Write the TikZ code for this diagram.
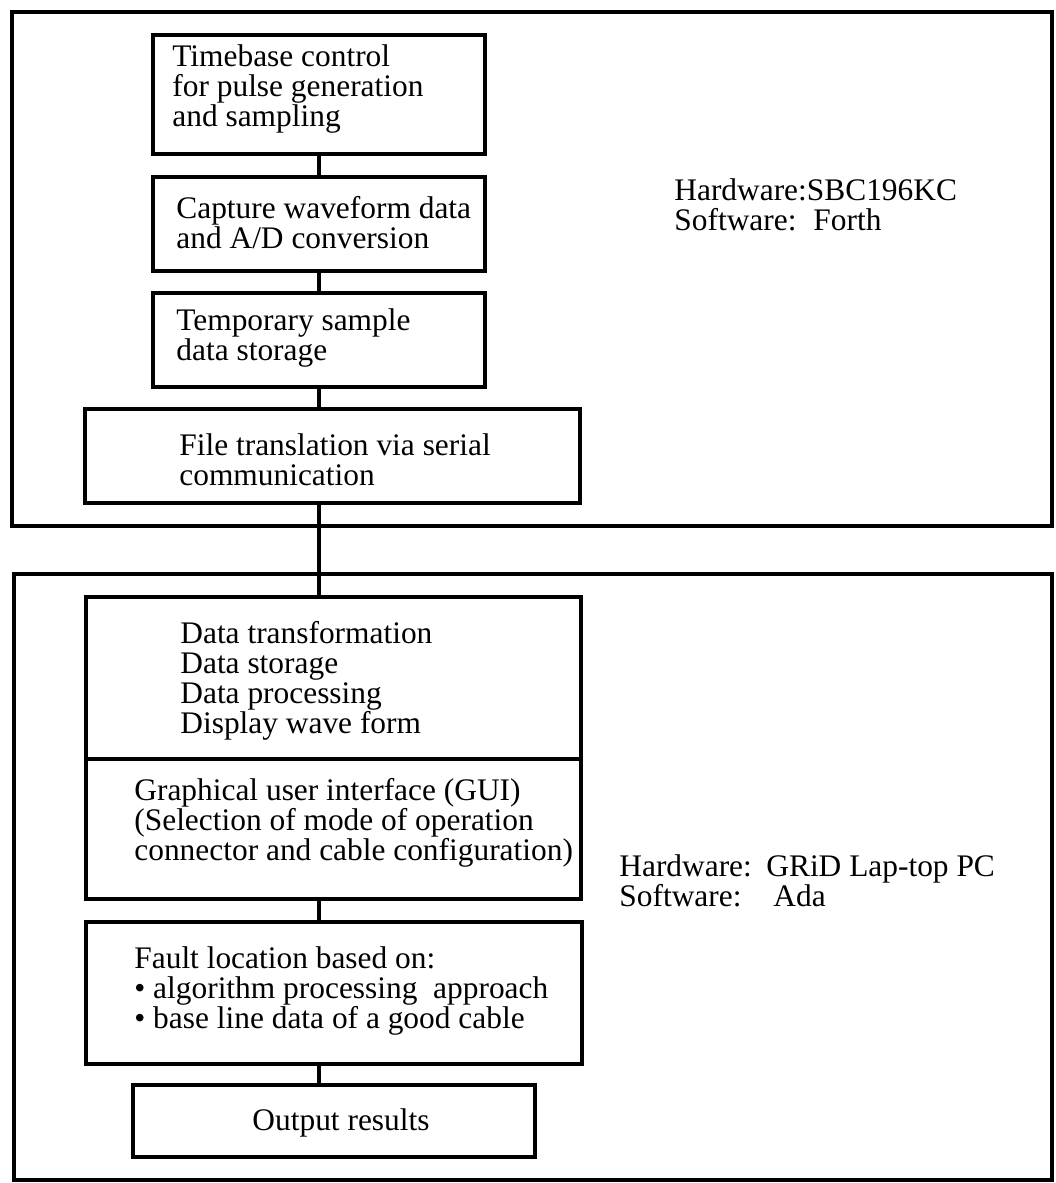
\documentclass[tikz,border=0pt]{standalone}
\usepackage{fontspec}
\setmainfont{Liberation Serif}
\begin{document}
\begin{tikzpicture}[x=0.5pt,y=-0.5pt,
  box/.style={draw=black, line width=2.2pt, rectangle, inner sep=0pt},
  frame/.style={draw=black, line width=2.3pt, rectangle, inner sep=0pt},
  link/.style={draw=black, line width=2pt},
  txt/.style={font=\fontsize{15.7}{15}\selectfont, align=left, inner sep=0pt, anchor=base west},
]
\useasboundingbox (0,0) rectangle (1055,1183);

% frames
\node[frame, minimum width=520pt, minimum height=257pt] (outer1) at (532,269) {};
\node[frame, minimum width=519pt, minimum height=303pt] (outer2) at (533,877) {};

% upper boxes
\node[box, minimum width=166pt, minimum height=59.5pt] (tb) at (319,94.5) {};
\node[box, minimum width=166pt, minimum height=47pt] (cap) at (319,224) {};
\node[box, minimum width=166pt, minimum height=47pt] (tmp) at (319,340) {};
\node[box, minimum width=247.5pt, minimum height=47pt] (file) at (332.5,456) {};

% lower boxes
\node[box, minimum width=247.5pt, minimum height=81pt] (data) at (333.5,678) {};
\node[box, minimum width=247.5pt, minimum height=70pt] (gui) at (333.5,829) {};
\node[box, minimum width=248pt, minimum height=71pt] (fault) at (334,993) {};
\node[box, minimum width=201pt, minimum height=36pt] (out) at (334,1121) {};

% connectors
\coordinate (spine) at (319,0);
\draw[link] (tb.south) -- (cap.north);
\draw[link] (cap.south) -- (tmp.north);
\draw[link] (tmp.south) -- (spine |- file.north);
\draw[link] (spine |- file.south) -- (spine |- data.north);
\draw[link] (spine |- gui.south) -- (spine |- fault.north);
\draw[link] (spine |- fault.south) -- (spine |- out.north);

% texts (anchored at the baseline of the last line)
\node[txt] (tbt) at (172,126) {Timebase control\\for pulse generation\\and sampling};
\node[txt] (capt) at (176,248) {Capture waveform data\\and A/D conversion};
\node[txt] (tmpt) at (176,360) {Temporary sample\\data storage};
\node[txt] (filet) at (179,485) {File translation via serial\\communication};
\node[txt] (datat) at (180,733) {Data transformation\\Data storage\\Data processing\\Display wave form};
\node[txt] (guit) at (134,860) {Graphical user interface (GUI)\\(Selection of mode of operation\\connector and cable configuration)};
\node[txt] (faultt) at (134,1028) {Fault location based on:\\• algorithm processing\ \ approach\\• base line data of a good cable};
\node[txt, anchor=base] (outt) at (341,1130) {Output results};

\node[txt] (hw1) at (674,230) {Hardware:SBC196KC\\\makebox[69.5pt][l]{Software:}Forth};
\node[txt] (hw2) at (619,906) {\makebox[73.5pt][l]{Hardware:}GRiD Lap-top PC\\\makebox[77pt][l]{Software:}Ada};
\end{tikzpicture}
\end{document}
